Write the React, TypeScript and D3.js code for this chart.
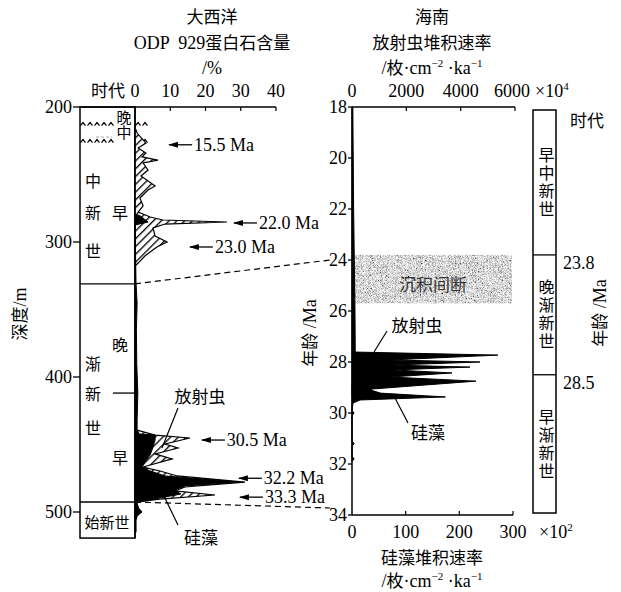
import React from "react";
import * as d3 from "d3";

// ODP 929 (大西洋) — 蛋白石含量 vs 深度
const opalDepth = [217, 219.3, 226.7, 230.4, 234.1, 237, 239.3, 241.5, 246.7, 251.1, 258.5, 261.5, 267.4, 273.3, 277.8, 281.5, 283.7, 285.2, 286.7, 289.6, 295.6, 300, 303.7, 310.4, 315.6, 317.8];
const opalPct = [0.3, 0.6, 3.1, 0.9, 3.1, 2.0, 6.5, 2.3, 3.7, 1.7, 5.7, 3.7, 1.4, 2.3, 0.9, 4.3, 7.9, 26.1, 8.5, 5.1, 5.7, 9.1, 6.2, 2.8, 0.9, 0];
const opalLowDepth = [439.3, 443, 445.2, 449.6, 452.6, 457, 460.7, 466.7, 469.6, 473.3, 477.8, 481.5, 484.4, 487.4, 490.4, 492.6];
const opalLowPct = [0.6, 5.7, 15.6, 8.5, 12.2, 5.7, 10.5, 2.3, 7.1, 12.0, 31.2, 14.2, 11.3, 22.7, 7.1, 0.6];
// 硅藻 (black)
const diatomDepth = [279.3, 280.7, 285.2, 287.4, 331, 345, 365, 390, 412, 432, 439.3, 442.2, 443, 446.7, 451.9, 457.8, 463, 466.7, 469.6, 473.3, 477.8, 480.7, 483.7, 486.7, 489.6, 491.9, 493.3, 497, 500, 503, 506, 515];
const diatomPct = [0, 1.5, 3.7, 0, 0.3, 0.6, 0.4, 0.5, 0.8, 0.6, 0.6, 1.2, 5.7, 5.7, 5.1, 4.3, 2.8, 2.0, 4.3, 8.5, 29.8, 14.2, 11.3, 13.0, 7.1, 2.5, 0.6, 1.0, 2.0, 0.6, 0.3, 0.3];

// 海南 — 堆积速率 vs 年龄
const radAge = [18, 22, 26, 27.61, 27.73, 27.92, 28.0, 28.12, 28.2, 28.31, 28.43, 28.59, 28.75, 29.06, 29.1, 29.22, 29.3];
const radRate = [30, 60, 110, 120, 5370, 1400, 4710, 1470, 4340, 1510, 3680, 1400, 4560, 740, 660, 1030, 0];
const diaAge = [28.9, 29.06, 29.1, 29.22, 29.37, 29.49, 29.61, 29.9, 30, 30.1, 31.1, 31.2, 31.3, 31.7, 31.8, 31.9];
const diaRate = [0, 37, 34, 52, 174, 15, 2, 0, 4, 0, 0, 4, 0, 0, 4, 0];

const opalTicks = [0, 10, 20, 30, 40];
const depthTicks = [200, 300, 400, 500];
const ageTicks = [18, 20, 22, 24, 26, 28, 30, 32, 34];
const radTicks = [0, 2000, 4000, 6000];
const diaTicks = [0, 100, 200, 300];
const ageEpochs = ["早中新世", "晚渐新世", "早渐新世"];
const ageBounds = [18, 23.8, 28.5, 34];
const notes = [
  { label: "15.5 Ma", depth: 228, at: 9.1 },
  { label: "22.0 Ma", depth: 285.9, at: 27.5 },
  { label: "23.0 Ma", depth: 303.7, at: 15 },
  { label: "30.5 Ma", depth: 446.7, at: 18.4 },
  { label: "32.2 Ma", depth: 475, at: 28.9 },
  { label: "33.3 Ma", depth: 489, at: 29.2 },
];

const cjk = "'Noto Sans CJK SC', sans-serif";
const serif = "Liberation Serif, serif";

const depthY = d3.scaleLinear().domain([200, 500]).range([107, 512]);
const opalX = d3.scaleLinear().domain([0, 40]).range([135, 276]);
const ageY = d3.scaleLinear().domain([18, 34]).range([107, 515]);
const radX = d3.scaleLinear().domain([0, 6000]).range([352, 515]);
const diaX = d3.scaleLinear().domain([0, 300]).range([352, 513]);

function profile(ys: number[], vs: number[], y: any, x: any) {
  const gen = d3
    .area<number>()
    .y((_, i) => y(ys[i]))
    .x0(x(0))
    .x1((v) => x(v));
  return gen(vs) || "";
}

function Units({ x, y }: { x: number; y: number }) {
  return (
    <text x={x} y={y} textAnchor="middle" fontFamily={serif} fontSize={18}>
      /<tspan fontFamily={cjk} fontSize={17}>枚</tspan>·cm
      <tspan dy={-7} fontSize={11}>−2</tspan>
      <tspan dy={7}> ·ka</tspan>
      <tspan dy={-7} fontSize={11}>−1</tspan>
    </text>
  );
}

function Carets({ x0, x1, y }: { x0: number; x1: number; y: number }) {
  const xs = d3.range(x0, x1, 7);
  const d = xs.map((x) => `M${x - 2.5},${y + 1.5}L${x},${y - 1.5}L${x + 2.5},${y + 1.5}`).join("");
  return <path d={d} fill="none" stroke="#000" strokeWidth={1.2} />;
}

function VText({ x, y, text, size = 16, gap = 0 }: { x: number; y: number; text: string; size?: number; gap?: number }) {
  return (
    <text x={x} y={y} fontFamily={cjk} fontSize={size} textAnchor="middle" letterSpacing={gap} style={{ writingMode: "vertical-rl" as any }}>
      {text}
    </text>
  );
}

export default function App() {
  const colTop = depthY(200);
  const colMio = depthY(331);
  const colEo = depthY(492.6);
  const colBot = depthY(519.3);
  const ageTop = 110;

  return (
    <svg width={621} height={592} style={{ position: "absolute", left: 0, top: 0, background: "#fff" }}>
      <defs>
        <pattern id="hatch" width={5.5} height={5.5} patternUnits="userSpaceOnUse" patternTransform="rotate(45)">
          <rect width={5.5} height={5.5} fill="#fff" />
          <line x1={0} y1={0} x2={0} y2={5.5} stroke="#000" strokeWidth={2.6} />
        </pattern>
        <filter id="grain" x="0" y="0" width="1" height="1">
          <feTurbulence type="fractalNoise" baseFrequency="1.4" numOctaves={2} seed={3} />
          <feColorMatrix type="matrix" values="0.33 0.33 0.33 0 0 0.33 0.33 0.33 0 0 0.33 0.33 0.33 0 0 0 0 0 0 1" />
          <feComponentTransfer>
            <feFuncR type="linear" slope="3" intercept="-0.8" />
            <feFuncG type="linear" slope="3" intercept="-0.8" />
            <feFuncB type="linear" slope="3" intercept="-0.8" />
          </feComponentTransfer>
          <feComposite operator="in" in2="SourceGraphic" />
        </filter>
        <marker id="arr" markerWidth={10} markerHeight={8} refX={1} refY={4} orient="auto" markerUnits="userSpaceOnUse">
          <path d="M0,4L10,1L10,7Z" fill="#000" />
        </marker>
      </defs>

      {/* ---------- left titles ---------- */}
      <g fontFamily={serif} fontSize={18} textAnchor="middle">
        <text x={212} y={23} fontFamily={cjk} fontSize={17}>大西洋</text>
        <text x={212} y={49} xmlSpace="preserve">ODP  929<tspan fontFamily={cjk} fontSize={17}>蛋白石含量</tspan></text>
        <text x={212} y={74}>/%</text>
        <text x={108} y={97} fontFamily={cjk} fontSize={17}>时代</text>
        {opalTicks.map((t) => (
          <text key={t} x={opalX(t)} y={97}>{t}</text>
        ))}
      </g>

      {/* left axes */}
      <line x1={80} x2={opalX(40)} y1={colTop} y2={colTop} stroke="#000" strokeWidth={1.5} />
      {opalTicks.slice(1).map((t) => (
        <line key={t} x1={opalX(t)} x2={opalX(t)} y1={colTop} y2={colTop + 4} stroke="#000" strokeWidth={1.2} />
      ))}
      {depthTicks.map((t) => (
        <g key={t}>
          <line x1={73} x2={80} y1={depthY(t)} y2={depthY(t)} stroke="#000" strokeWidth={1.3} />
          <text x={72} y={depthY(t) + 6} textAnchor="end" fontFamily={serif} fontSize={18}>{t}</text>
        </g>
      ))}
      <text transform="translate(26,314) rotate(-90)" textAnchor="middle" fontFamily={serif} fontSize={18}>
        <tspan fontFamily={cjk} fontSize={17}>深度</tspan>/m
      </text>

      {/* left epoch column */}
      <rect x={80} y={colTop} width={55} height={colBot - colTop} fill="none" stroke="#000" strokeWidth={1.5} />
      <line x1={80} x2={135} y1={colMio} y2={colMio} stroke="#000" strokeWidth={1.3} />
      <line x1={80} x2={135} y1={colEo} y2={colEo} stroke="#000" strokeWidth={1.3} />
      <line x1={113} x2={135} y1={depthY(411.9)} y2={depthY(411.9)} stroke="#000" strokeWidth={1.3} />
      <Carets x0={83} x1={112} y={depthY(212.6)} />
      <Carets x0={138} x1={152} y={depthY(212.6)} />
      <Carets x0={83} x1={112} y={depthY(225.2)} />
      <Carets x0={138} x1={152} y={depthY(225.2)} />
      <line x1={96} x2={112} y1={137} y2={137} stroke="#aaa" strokeDasharray="3,2" strokeWidth={1} />
      <VText x={124} y={125} text="晚中" size={15} />
      <g fontFamily={cjk} fontSize={16} textAnchor="middle" dominantBaseline="central">
        <text x={93} y={180}>中</text>
        <text x={93} y={212}>新</text>
        <text x={93} y={250}>世</text>
        <text x={120} y={212}>早</text>
        <text x={120} y={344}>晚</text>
        <text x={93} y={363}>渐</text>
        <text x={93} y={393}>新</text>
        <text x={93} y={427}>世</text>
        <text x={120} y={457}>早</text>
        <text x={107} y={521} fontSize={15}>始新世</text>
      </g>

      {/* left profiles */}
      <path d={profile(opalDepth, opalPct, depthY, opalX)} fill="url(#hatch)" stroke="#000" strokeWidth={1.2} />
      <path d={profile(opalLowDepth, opalLowPct, depthY, opalX)} fill="url(#hatch)" stroke="#000" strokeWidth={1.2} />
      <path d={profile(diatomDepth, diatomPct, depthY, opalX)} fill="#000" stroke="#000" strokeWidth={1} />
      <line x1={135} x2={135} y1={colTop} y2={colBot} stroke="#000" strokeWidth={1.5} />

      {/* annotations */}
      {notes.map((n) => {
        const y = depthY(n.depth);
        const x = opalX(n.at);
        return (
          <g key={n.label}>
            <line x1={x + 2} x2={x + 25} y1={y} y2={y} stroke="#000" strokeWidth={1.3} markerStart="url(#arr)" />
            <text x={x + 27} y={y + 6} fontFamily={serif} fontSize={18}>{n.label}</text>
          </g>
        );
      })}
      <text x={200} y={403} textAnchor="middle" fontFamily={cjk} fontSize={17}>放射虫</text>
      <line x1={178} y1={408} x2={162} y2={448} stroke="#000" strokeWidth={1.2} />
      <text x={201} y={544} textAnchor="middle" fontFamily={cjk} fontSize={17}>硅藻</text>
      <line x1={162} y1={492} x2={178} y2={525} stroke="#000" strokeWidth={1.2} />

      {/* correlation lines */}
      <line x1={135} y1={colMio} x2={radX(0) - 22} y2={ageY(24)} stroke="#000" strokeDasharray="6,4" strokeWidth={1.2} />
      <line x1={135} y1={colEo} x2={radX(0) - 22} y2={ageY(34) - 7} stroke="#000" strokeDasharray="6,4" strokeWidth={1.2} />

      {/* ---------- right panel ---------- */}
      <g fontFamily={serif} fontSize={18} textAnchor="middle">
        <text x={432} y={23} fontFamily={cjk} fontSize={17}>海南</text>
        <text x={432} y={49} fontFamily={cjk} fontSize={17}>放射虫堆积速率</text>
        {radTicks.map((t) => (
          <text key={t} x={radX(t) - (t === 6000 ? 3 : 0)} y={97}>{t}</text>
        ))}
        {diaTicks.map((t) => (
          <text key={t} x={diaX(t)} y={538}>{t}</text>
        ))}
        <text x={432} y={564} fontFamily={cjk} fontSize={17}>硅藻堆积速率</text>
      </g>
      <Units x={432} y={74} />
      <Units x={432} y={587} />
      <text x={535} y={97} fontFamily={serif} fontSize={18}>
        ×10<tspan dy={-7} fontSize={11}>4</tspan>
      </text>
      <text x={539} y={538} fontFamily={serif} fontSize={18}>
        ×10<tspan dy={-7} fontSize={11}>2</tspan>
      </text>

      {/* hiatus box */}
      <rect x={355} y={ageY(23.8)} width={157} height={ageY(25.7) - ageY(23.8)} fill="#ccc" filter="url(#grain)" />
      <text x={433} y={291} textAnchor="middle" fontFamily={cjk} fontSize={17} fill="#333">沉积间断</text>

      <path d={profile(radAge, radRate, ageY, radX)} fill="#000" stroke="#000" strokeWidth={1} />
      <path d={profile(diaAge, diaRate, ageY, diaX)} fill="#000" stroke="#000" strokeWidth={1} />

      <line x1={radX(0)} x2={radX(6000)} y1={ageY(18)} y2={ageY(18)} stroke="#000" strokeWidth={1.5} />
      <line x1={diaX(0)} x2={diaX(300)} y1={ageY(34)} y2={ageY(34)} stroke="#000" strokeWidth={1.5} />
      <line x1={radX(0)} x2={radX(0)} y1={ageY(18)} y2={ageY(34)} stroke="#000" strokeWidth={1.5} />
      {radTicks.slice(1).map((t) => (
        <line key={t} x1={radX(t)} x2={radX(t)} y1={ageY(18)} y2={ageY(18) + 4} stroke="#000" strokeWidth={1.2} />
      ))}
      {diaTicks.slice(1).map((t) => (
        <line key={t} x1={diaX(t)} x2={diaX(t)} y1={ageY(34)} y2={ageY(34) - 4} stroke="#000" strokeWidth={1.2} />
      ))}
      {ageTicks.map((t) => (
        <g key={t}>
          <line x1={348} x2={352} y1={ageY(t)} y2={ageY(t)} stroke="#000" strokeWidth={1.3} />
          <text x={347} y={ageY(t) + 6} textAnchor="end" fontFamily={serif} fontSize={18}>{t}</text>
        </g>
      ))}
      <text transform="translate(316,333) rotate(-90)" textAnchor="middle" fontFamily={serif} fontSize={18}>
        <tspan fontFamily={cjk} fontSize={17}>年龄</tspan> /Ma
      </text>
      <text x={417} y={332} textAnchor="middle" fontFamily={cjk} fontSize={17}>放射虫</text>
      <line x1={387} y1={331} x2={374} y2={352} stroke="#000" strokeWidth={1.2} />
      <text x={428} y={439} textAnchor="middle" fontFamily={cjk} fontSize={17}>硅藻</text>
      <line x1={408} y1={423} x2={395} y2={398} stroke="#000" strokeWidth={1.2} />

      {/* right epoch column */}
      <rect x={533} y={ageTop} width={23} height={ageY(34) - 2 - ageTop} fill="none" stroke="#000" strokeWidth={1.5} />
      {ageBounds.slice(1, 3).map((b) => (
        <g key={b}>
          <line x1={533} x2={556} y1={ageY(b)} y2={ageY(b)} stroke="#000" strokeWidth={1.3} />
          <text x={563} y={ageY(b) + 14} fontFamily={serif} fontSize={18}>{b}</text>
        </g>
      ))}
      {ageEpochs.map((e, i) => {
        const top = i === 0 ? ageTop : ageY(ageBounds[i]);
        const mid = (top + ageY(ageBounds[i + 1])) / 2;
        return <VText key={e} x={546.5} y={mid} text={e} size={16} gap={2} />;
      })}
      <text x={570} y={127} fontFamily={cjk} fontSize={17}>时代</text>
      <text transform="translate(606,313) rotate(-90)" textAnchor="middle" fontFamily={serif} fontSize={18}>
        <tspan fontFamily={cjk} fontSize={17}>年龄</tspan> /Ma
      </text>
    </svg>
  );
}
